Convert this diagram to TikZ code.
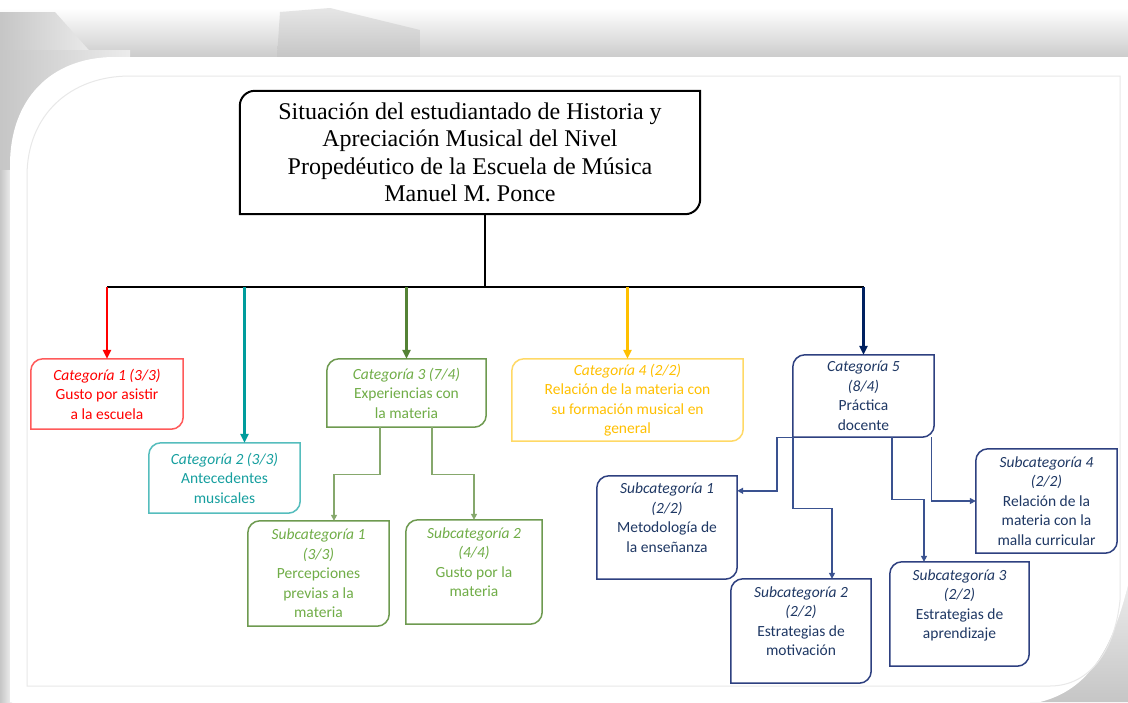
\documentclass[tikz,border=0pt]{standalone}
\usepackage{fontspec}
\setmainfont{Liberation Serif}
\newfontfamily\boxfont{Carlito}
\usetikzlibrary{arrows.meta}

\definecolor{catred}{HTML}{FF0000}
\definecolor{catredrim}{HTML}{FF5A5A}
\definecolor{catteal}{HTML}{009C9C}
\definecolor{catteallight}{HTML}{169F9F}
\definecolor{cattealrim}{HTML}{55BDBD}
\definecolor{catgreen}{HTML}{548235}
\definecolor{catgreentext}{HTML}{70AD47}
\definecolor{catgreenrim}{HTML}{6E9A50}
\definecolor{catgreentwig}{HTML}{86A86C}
\definecolor{catyellow}{HTML}{FFC000}
\definecolor{catyellowrim}{HTML}{FFD966}
\definecolor{catnavy}{HTML}{002060}
\definecolor{catnavytext}{HTML}{1F3864}
\definecolor{catnavyrim}{HTML}{2E4080}
\definecolor{catnavytwig}{HTML}{3A5290}

% caja con esquinas redondeadas arriba-izquierda y abajo-derecha
\newcommand{\leafbox}[3]{%
  \draw[#2] (#1.south west) -- ([yshift=-#3]#1.north west)
    .. controls ([yshift=-0.45*#3]#1.north west) and ([xshift=0.45*#3]#1.north west)
    .. ([xshift=#3]#1.north west)
    -- (#1.north east) -- ([yshift=#3]#1.south east)
    .. controls ([yshift=0.45*#3]#1.south east) and ([xshift=-0.45*#3]#1.south east)
    .. ([xshift=-#3]#1.south east)
    -- cycle;}

\begin{document}
\begin{tikzpicture}[x=1pt,y=-1pt,
  box/.style={inner sep=0pt, align=center, font=\boxfont\fontsize{15.5}{19.5}\selectfont},
  rim/.style={line width=1.5pt},
  trunk/.style={line width=2.5pt},
  branch/.style={line width=2.5pt, -{Triangle[length=9pt,width=8pt]}},
  twig/.style={line width=1.4pt, -{Triangle[length=6pt,width=6pt]}},
]
\useasboundingbox (0,0) rectangle (1128,702);
% Fondo decorativo
\fill[white] (0,0) rectangle (1128,702);
\shade[top color=white, bottom color=gray!40] (0,8) rectangle (1128,57);
\shade[left color=gray!45, right color=gray!15] (0,12) -- (55,12) -- (95,57) -- (0,57) -- cycle;
\shade[top color=gray!20, bottom color=gray!45] (280,12) -- (330,8) -- (420,30) -- (420,57) -- (277,57) -- cycle;
\shade[left color=gray!45, right color=gray!15] (0,50) rectangle (130,180);
\shade[left color=gray!45, right color=gray!10] (0,170) rectangle (12,702);
\shade[top color=gray!15, bottom color=gray!45] (1030,702) -- (1128,580) -- (1128,702) -- cycle;
\fill[white] (10,702) -- (10,165) .. controls (10,100) and (50,57) .. (115,57) -- (1128,57)
  -- (1128,585) .. controls (1112,650) and (1088,690) .. (1040,702) -- cycle;
\draw[gray!18, line width=1pt] (27,686) -- (27,176) .. controls (27,115) and (70,76) .. (130,76)
  -- (1120,76) -- (1120,600) .. controls (1115,650) and (1090,686) .. (1050,686) -- cycle;

% Titulo
\node[inner sep=0pt, align=center, minimum width=460pt, minimum height=123pt,
  font=\fontsize{24}{27.5}\selectfont] (titulo) at (470,152.5)
  {Situación del estudiantado de Historia y\\Apreciación Musical del Nivel\\Propedéutico de la Escuela de Música\\Manuel M. Ponce};
\leafbox{titulo}{line width=2pt}{15pt}

% Categorias
\node[box, text=catred, minimum width=152pt, minimum height=70pt] (cat1) at (107,394)
  {\textit{Categoría 1 (3/3)}\\Gusto por asistir\\a la escuela};
\leafbox{cat1}{rim, catredrim}{12pt}
\node[box, text=catteallight, minimum width=151pt, minimum height=70pt] (cat2) at (224.5,478)
  {\textit{Categoría 2 (3/3)}\\Antecedentes\\musicales};
\leafbox{cat2}{rim, cattealrim}{12pt}
\node[box, text=catgreentext, minimum width=159pt, minimum height=68pt] (cat3) at (406.5,393)
  {\textit{Categoría 3 (7/4)}\\Experiencias con\\la materia};
\leafbox{cat3}{rim, catgreenrim}{12pt}
\node[box, text=catyellow, minimum width=231pt, minimum height=82pt] (cat4) at (627.5,400)
  {\textit{Categoría 4 (2/2)}\\Relación de la materia con\\su formación musical en\\general};
\leafbox{cat4}{rim, catyellowrim}{12pt}
\node[box, text=catnavytext, minimum width=141pt, minimum height=82pt] (cat5) at (863.5,396)
  {\textit{Categoría 5}\\\textit{(8/4)}\\Práctica\\docente};
\leafbox{cat5}{rim, catnavyrim}{12pt}

% Subcategorias
\node[box, text=catgreentext, minimum width=141pt, minimum height=105pt] (sub31) at (318.5,573.5)
  {\textit{Subcategoría 1}\\\textit{(3/3)}\\Percepciones\\previas a la\\materia};
\leafbox{sub31}{rim, catgreenrim}{12pt}
\node[box, text=catgreentext, minimum width=136pt, minimum height=104pt] (sub32) at (474,572)
  {\textit{Subcategoría 2}\\\textit{(4/4)}\\Gusto por la\\materia\\\mbox{}};
\leafbox{sub32}{rim, catgreenrim}{12pt}
\node[box, text=catnavytext, minimum width=140pt, minimum height=103pt] (sub51) at (667,527.5)
  {\textit{Subcategoría 1}\\\textit{(2/2)}\\Metodología de\\la enseñanza\\\mbox{}};
\leafbox{sub51}{rim, catnavyrim}{12pt}
\node[box, text=catnavytext, minimum width=140pt, minimum height=104pt] (sub52) at (801,631)
  {\textit{Subcategoría 2}\\\textit{(2/2)}\\Estrategias de\\motivación\\\mbox{}};
\leafbox{sub52}{rim, catnavyrim}{12pt}
\node[box, text=catnavytext, minimum width=139pt, minimum height=104pt] (sub53) at (959.5,614)
  {\textit{Subcategoría 3}\\\textit{(2/2)}\\Estrategias de\\aprendizaje\\\mbox{}};
\leafbox{sub53}{rim, catnavyrim}{12pt}
\node[box, text=catnavytext, minimum width=141pt, minimum height=104pt] (sub54) at (1046.5,501)
  {\textit{Subcategoría 4}\\\textit{(2/2)}\\Relación de la\\materia con la\\malla curricular};
\leafbox{sub54}{rim, catnavyrim}{12pt}

% Conectores principales
\coordinate (hub) at (485,287);
\draw[trunk] ([xshift=15pt]titulo.south) -- (hub);
\draw[trunk] (hub -| cat1) -- (hub -| cat5);
\draw[branch, catred] (hub -| cat1) -- (cat1.north);
\draw[branch, catteal] ([xshift=20pt]cat2.north |- hub) -- ([xshift=20pt]cat2.north);
\draw[branch, catgreen] (hub -| cat3) -- (cat3.north);
\draw[branch, catyellow] (hub -| cat4) -- (cat4.north);
\draw[branch, catnavy] (hub -| cat5) -- (cat5.north);

% Conectores de subcategorias
\draw[twig, catgreentwig] ([xshift=-26.5pt]cat3.south) -- ++(0,47) -| ([xshift=15.5pt]sub31.north);
\draw[twig, catgreentwig] ([xshift=25.5pt]cat3.south) -- ++(0,47) -| (sub32.north);
\draw[twig, catnavytwig] (cat5.south west) -- ++(-16,0) |- ([yshift=-15pt]sub51.north east);
\draw[twig, catnavytwig] (cat5.south west) -- ++(0,71) -| ([xshift=31pt]sub52.north);
\draw[twig, catnavytwig] ([xshift=28.5pt]cat5.south) -- ++(0,62) -| ([xshift=-35.5pt]sub53.north);
\draw[twig, catnavytwig] ([xshift=-3pt]cat5.south east) |- (sub54.west);
\end{tikzpicture}
\end{document}
